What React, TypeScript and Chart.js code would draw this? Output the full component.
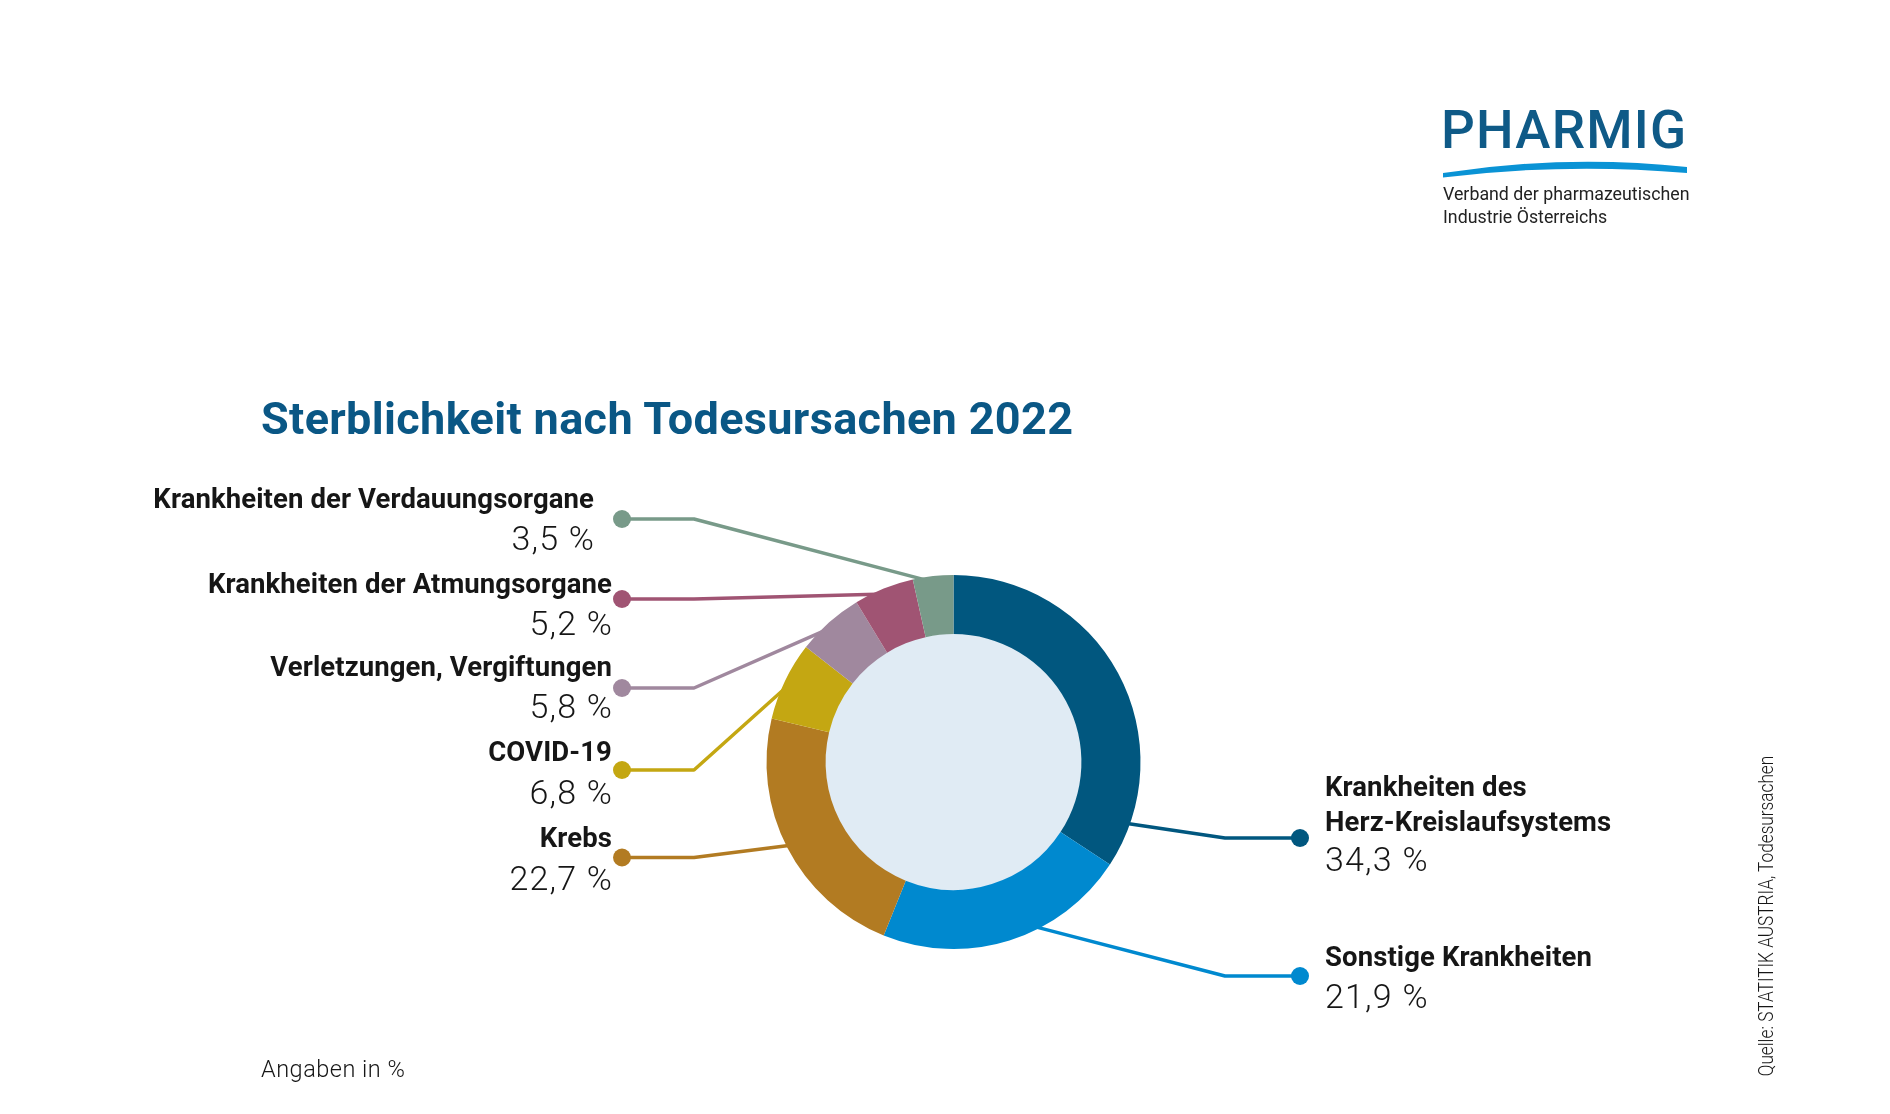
import React, { useEffect, useRef } from 'react';
import { Chart, registerables } from 'chart.js';

Chart.register(...registerables);

const W = 1890;
const H = 1114;

// ---- data ----
const categories = [
  'Krankheiten des Herz-Kreislaufsystems',
  'Sonstige Krankheiten',
  'Krebs',
  'COVID-19',
  'Verletzungen, Vergiftungen',
  'Krankheiten der Atmungsorgane',
  'Krankheiten der Verdauungsorgane',
];
const values = [34.3, 21.9, 22.7, 6.8, 5.8, 5.2, 3.5];
const colors = ['#01577F', '#0089CF', '#B27B22', '#C4A712', '#A0889E', '#A05473', '#789A89'];

const titleText = 'Sterblichkeit nach Todesursachen 2022';
const noteText = 'Angaben in %';
const sourceText = 'Quelle: STATITIK AUSTRIA, Todesursachen';
const logoText = 'PHARMIG';
const logoSub = ['Verband der pharmazeutischen', 'Industrie Österreichs'];

// ---- layout (positions only) ----
const side = ['right', 'right', 'left', 'left', 'left', 'left', 'left'];
const dotY = [838, 976, 857.5, 770, 688, 599, 519];
const anchorFrac = [0.89, 0.4, 0.5, 0.5, 0.5, 0.5, 0.5];
const labelY = [786, 956, 837, 751.5, 666, 583.5, 498];
const valueY = [859, 996, 877.5, 791.5, 706, 623, 537.5];
const textX = [1325, 1325, 612, 612, 612, 612, 594];
const DOT_L = 622;
const ELBOW_L = 694;
const DOT_R = 1300;
const ELBOW_R = 1225;

const fmt = (v: number) => v.toFixed(1).replace('.', ',') + ' %';
const displayLabel = (c: string) =>
  c === 'Krankheiten des Herz-Kreislaufsystems' ? 'Krankheiten des\nHerz-Kreislaufsystems' : c;

const leaderPlugin = {
  id: 'leaders',
  beforeDatasetsDraw(chart: any) {
    const ctx = chart.ctx as CanvasRenderingContext2D;
    const meta = chart.getDatasetMeta(0);
    meta.data.forEach((arc: any, i: number) => {
      const p = arc.getProps(['x', 'y', 'startAngle', 'endAngle', 'outerRadius'], true);
      const a = p.startAngle + anchorFrac[i] * (p.endAngle - p.startAngle);
      const r = p.outerRadius - 6;
      const ax = p.x + Math.cos(a) * r;
      const ay = p.y + Math.sin(a) * r;
      const left = side[i] === 'left';
      const ex = left ? ELBOW_L : ELBOW_R;
      const dx = left ? DOT_L : DOT_R;
      ctx.save();
      ctx.strokeStyle = colors[i];
      ctx.lineWidth = 3.5;
      ctx.lineJoin = 'round';
      ctx.beginPath();
      ctx.moveTo(ax, ay);
      ctx.lineTo(ex, dotY[i]);
      ctx.lineTo(dx, dotY[i]);
      ctx.stroke();
      ctx.fillStyle = colors[i];
      ctx.beginPath();
      ctx.arc(dx, dotY[i], 9, 0, Math.PI * 2);
      ctx.fill();
      ctx.restore();
    });
    const c0 = meta.data[0].getProps(['x', 'y', 'innerRadius'], true);
    ctx.save();
    ctx.fillStyle = '#E0EBF4';
    ctx.beginPath();
    ctx.arc(c0.x, c0.y, c0.innerRadius + 0.5, 0, Math.PI * 2);
    ctx.fill();
    ctx.restore();
  },
};

export default function App() {
  const ref = useRef<HTMLCanvasElement>(null);

  useEffect(() => {
    document.body.style.margin = '0';
    document.body.style.overflow = 'hidden';
    const chart = new Chart(ref.current as HTMLCanvasElement, {
      type: 'doughnut',
      data: {
        labels: categories,
        datasets: [
          {
            data: values,
            backgroundColor: colors,
            borderWidth: 0,
            hoverOffset: 0,
          },
        ],
      },
      options: {
        responsive: false,
        animation: false,
        events: [],
        cutout: '68.4%',
        layout: { padding: { left: 766.5, right: 749.5, top: 575, bottom: 165 } },
        plugins: {
          legend: { display: false },
          tooltip: { enabled: false },
        },
      },
      plugins: [leaderPlugin],
    });
    return () => chart.destroy();
  }, []);

  const labelFs = 27.5;
  const labelLh = 35;
  const valueFs = 34;
  const ink = '#161616';

  return (
    <div
      style={{
        position: 'absolute',
        left: 0,
        top: 0,
        width: W,
        height: H,
        background: '#ffffff',
        overflow: 'hidden',
        fontFamily: 'Roboto, "Noto Sans", sans-serif',
      }}
    >
      <canvas
        ref={ref}
        width={W}
        height={H}
        style={{ position: 'absolute', left: 0, top: 0, width: W, height: H }}
      />

      {/* Logo */}
      <div
        style={{
          position: 'absolute',
          left: 1441,
          top: 104,
          fontSize: 53,
          lineHeight: '53px',
          fontWeight: 500,
          letterSpacing: '1.2px',
          color: '#0F5A87',
          whiteSpace: 'nowrap',
        }}
      >
        {logoText}
      </div>
      <svg
        width={W}
        height={H}
        style={{ position: 'absolute', left: 0, top: 0, pointerEvents: 'none' }}
      >
        <path d="M1443,173 Q1565,154 1687,167 L1687,173 Q1565,162.5 1443,177.5 Z" fill="#0A93D5" />
      </svg>
      <div
        style={{
          position: 'absolute',
          left: 1443,
          top: 182,
          fontSize: 17.8,
          lineHeight: '23px',
          color: '#222',
          whiteSpace: 'pre',
        }}
      >
        {logoSub.join('\n')}
      </div>

      {/* Title */}
      <div
        style={{
          position: 'absolute',
          left: 261,
          top: 396,
          fontSize: 45,
          lineHeight: '45px',
          fontWeight: 700,
          letterSpacing: '0.35px',
          color: '#0A5785',
          whiteSpace: 'nowrap',
        }}
      >
        {titleText}
      </div>

      {/* Labels */}
      {categories.map((c, i) => {
        const left = side[i] === 'left';
        const pos: React.CSSProperties = left
          ? { right: W - textX[i], textAlign: 'right' }
          : { left: textX[i], textAlign: 'left' };
        return (
          <React.Fragment key={c}>
            <div
              style={{
                position: 'absolute',
                ...pos,
                top: labelY[i] - labelLh / 2,
                fontSize: labelFs,
                lineHeight: labelLh + 'px',
                fontWeight: 700,
                letterSpacing: '0.1px',
                color: ink,
                whiteSpace: 'pre',
              }}
            >
              {displayLabel(c)}
            </div>
            <div
              style={{
                position: 'absolute',
                ...pos,
                top: valueY[i] - valueFs / 2,
                fontSize: valueFs,
                lineHeight: valueFs + 'px',
                fontWeight: 300,
                letterSpacing: '1.2px',
                marginRight: left ? -1.2 : 0,
                color: ink,
                whiteSpace: 'nowrap',
              }}
            >
              {fmt(values[i])}
            </div>
          </React.Fragment>
        );
      })}

      {/* Footnote */}
      <div
        style={{
          position: 'absolute',
          left: 261,
          top: 1058,
          fontSize: 23.5,
          lineHeight: '23.5px',
          fontWeight: 300,
          letterSpacing: '0.5px',
          color: ink,
          whiteSpace: 'nowrap',
        }}
      >
        {noteText}
      </div>

      {/* Source (vertical) */}
      <div
        style={{
          position: 'absolute',
          left: 1766,
          top: 915.5,
          fontSize: 20,
          lineHeight: '20px',
          fontWeight: 300,
          color: ink,
          whiteSpace: 'nowrap',
          transform: 'translate(-50%, -50%) rotate(-90deg) scaleX(0.86)',
        }}
      >
        {sourceText}
      </div>
    </div>
  );
}
